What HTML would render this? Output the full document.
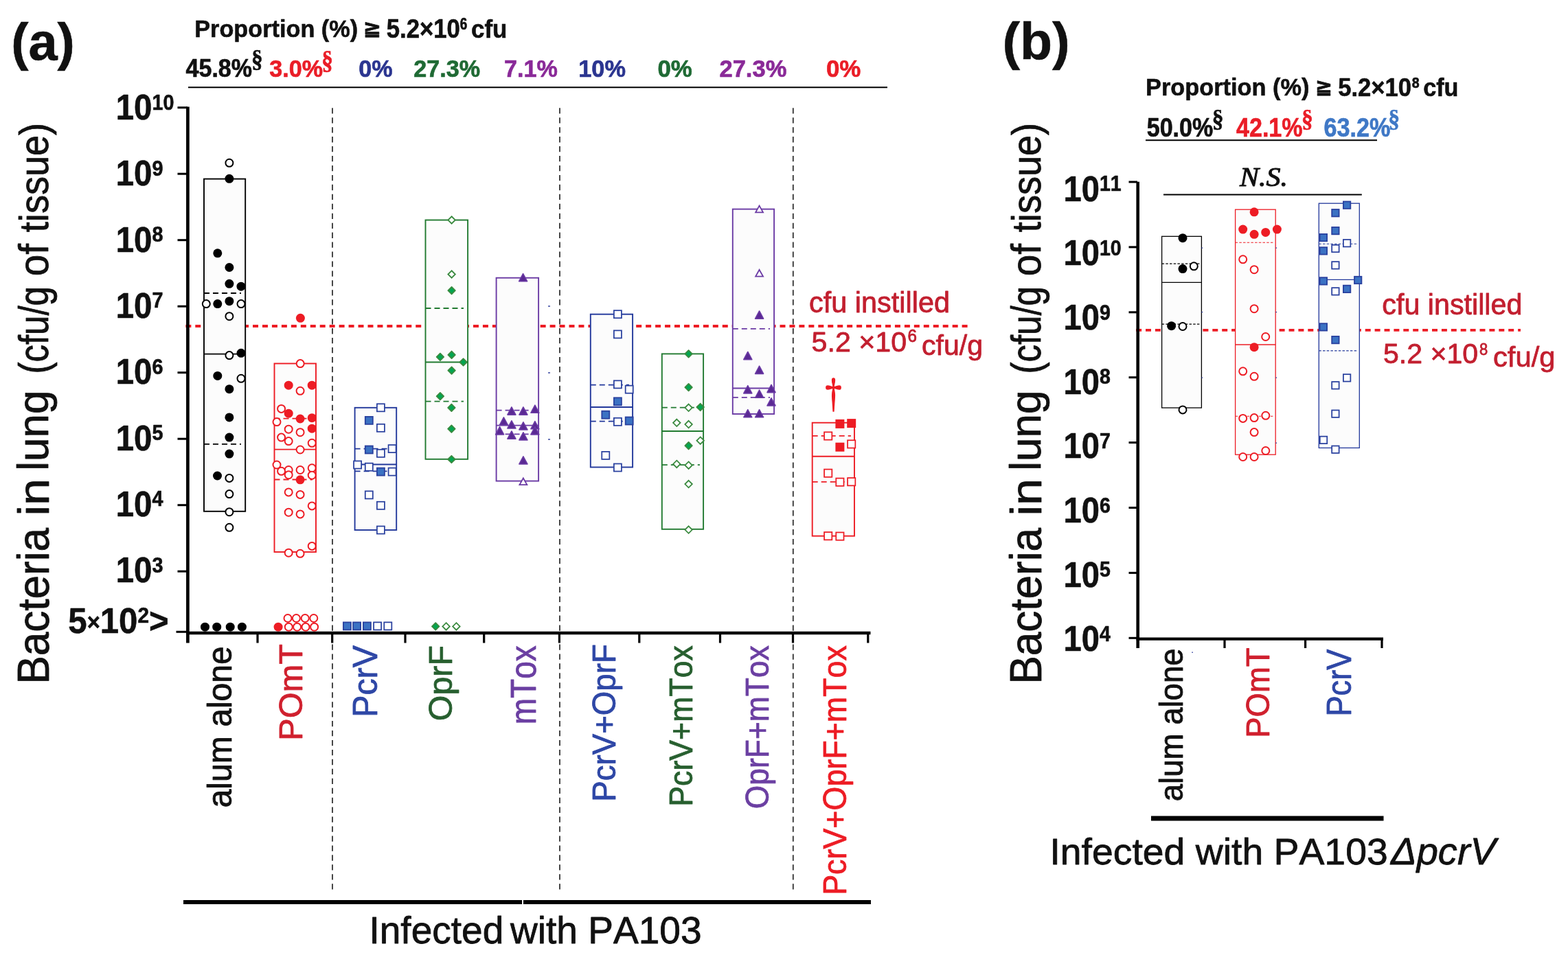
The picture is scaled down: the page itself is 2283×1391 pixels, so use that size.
<!DOCTYPE html>
<html><head><meta charset="utf-8"><title>Bacteria in lung</title>
<style>html,body{margin:0;padding:0;background:#fff;overflow:hidden}svg{display:block}text{font-kerning:none}</style>
</head><body>
<svg width="2283" height="1391" viewBox="0 0 2283 1391">
<rect width="2283" height="1391" fill="#fff"/>
<line x1="270.35" y1="475" x2="1413.8" y2="475" stroke="#ed1c24" stroke-width="3.8" stroke-dasharray="8 5.954"/>
<line x1="484" y1="157.25" x2="484" y2="1297" stroke="#333333" stroke-width="1.8" stroke-dasharray="8.3 5.65"/>
<line x1="815" y1="157.25" x2="815" y2="1297" stroke="#333333" stroke-width="1.8" stroke-dasharray="8.3 5.65"/>
<line x1="1154.8" y1="157.25" x2="1154.8" y2="1297" stroke="#333333" stroke-width="1.8" stroke-dasharray="8.3 5.65"/>
<line x1="273.4" y1="155.5" x2="273.4" y2="936.5" stroke="#000000" stroke-width="4.7"/>
<line x1="271" y1="922" x2="1267.5" y2="922" stroke="#000000" stroke-width="4.6"/>
<line x1="258.5" y1="832.2" x2="273" y2="832.2" stroke="#000000" stroke-width="3"/>
<line x1="258.5" y1="735.7" x2="273" y2="735.7" stroke="#000000" stroke-width="3"/>
<line x1="258.5" y1="639.2" x2="273" y2="639.2" stroke="#000000" stroke-width="3"/>
<line x1="258.5" y1="542.7" x2="273" y2="542.7" stroke="#000000" stroke-width="3"/>
<line x1="258.5" y1="446.2" x2="273" y2="446.2" stroke="#000000" stroke-width="3"/>
<line x1="258.5" y1="349.7" x2="273" y2="349.7" stroke="#000000" stroke-width="3"/>
<line x1="258.5" y1="253.2" x2="273" y2="253.2" stroke="#000000" stroke-width="3"/>
<line x1="258.5" y1="156.7" x2="273" y2="156.7" stroke="#000000" stroke-width="3"/>
<line x1="256.5" y1="920.3" x2="273" y2="920.3" stroke="#000000" stroke-width="3"/>
<line x1="375" y1="922" x2="375" y2="936.5" stroke="#000000" stroke-width="3.2"/>
<line x1="483.7" y1="922" x2="483.7" y2="936.5" stroke="#000000" stroke-width="3.2"/>
<line x1="590" y1="922" x2="590" y2="936.5" stroke="#000000" stroke-width="3.2"/>
<line x1="704.7" y1="922" x2="704.7" y2="936.5" stroke="#000000" stroke-width="3.2"/>
<line x1="814.4" y1="922" x2="814.4" y2="936.5" stroke="#000000" stroke-width="3.2"/>
<line x1="930.8" y1="922" x2="930.8" y2="936.5" stroke="#000000" stroke-width="3.2"/>
<line x1="1048.5" y1="922" x2="1048.5" y2="936.5" stroke="#000000" stroke-width="3.2"/>
<line x1="1154.5" y1="922" x2="1154.5" y2="936.5" stroke="#000000" stroke-width="3.2"/>
<line x1="1263.8" y1="922" x2="1263.8" y2="936.5" stroke="#000000" stroke-width="3.2"/>
<text id="ta9" class="t" transform="translate(168.74 270.30) scale(0.9586 1.0339)" font-family='"Liberation Sans", "DejaVu Sans", Arial, sans-serif' font-size="49.5" font-weight="bold" font-style="normal" fill="#111111" text-anchor="start" stroke="#111111" stroke-width="0.60" stroke-linejoin="round" >10<tspan font-size="30" dy="-14">9</tspan></text>
<text id="ta3" class="t" transform="translate(168.74 848.10) scale(0.9586 1.0339)" font-family='"Liberation Sans", "DejaVu Sans", Arial, sans-serif' font-size="49.5" font-weight="bold" font-style="normal" fill="#111111" text-anchor="start" stroke="#111111" stroke-width="0.60" stroke-linejoin="round" >10<tspan font-size="30" dy="-14">3</tspan></text>
<text id="ta4" class="t" transform="translate(168.74 751.80) scale(0.9586 1.0339)" font-family='"Liberation Sans", "DejaVu Sans", Arial, sans-serif' font-size="49.5" font-weight="bold" font-style="normal" fill="#111111" text-anchor="start" stroke="#111111" stroke-width="0.60" stroke-linejoin="round" >10<tspan font-size="30" dy="-14">4</tspan></text>
<text id="ta5" class="t" transform="translate(168.74 655.50) scale(0.9586 1.0339)" font-family='"Liberation Sans", "DejaVu Sans", Arial, sans-serif' font-size="49.5" font-weight="bold" font-style="normal" fill="#111111" text-anchor="start" stroke="#111111" stroke-width="0.60" stroke-linejoin="round" >10<tspan font-size="30" dy="-14">5</tspan></text>
<text id="ta6" class="t" transform="translate(168.74 559.20) scale(0.9586 1.0339)" font-family='"Liberation Sans", "DejaVu Sans", Arial, sans-serif' font-size="49.5" font-weight="bold" font-style="normal" fill="#111111" text-anchor="start" stroke="#111111" stroke-width="0.60" stroke-linejoin="round" >10<tspan font-size="30" dy="-14">6</tspan></text>
<text id="ta7" class="t" transform="translate(168.74 462.90) scale(0.9586 1.0339)" font-family='"Liberation Sans", "DejaVu Sans", Arial, sans-serif' font-size="49.5" font-weight="bold" font-style="normal" fill="#111111" text-anchor="start" stroke="#111111" stroke-width="0.60" stroke-linejoin="round" >10<tspan font-size="30" dy="-14">7</tspan></text>
<text id="ta8" class="t" transform="translate(168.74 366.60) scale(0.9586 1.0339)" font-family='"Liberation Sans", "DejaVu Sans", Arial, sans-serif' font-size="49.5" font-weight="bold" font-style="normal" fill="#111111" text-anchor="start" stroke="#111111" stroke-width="0.60" stroke-linejoin="round" >10<tspan font-size="30" dy="-14">8</tspan></text>
<text id="ta10" class="t" transform="translate(168.74 174.00) scale(0.9586 1.0339)" font-family='"Liberation Sans", "DejaVu Sans", Arial, sans-serif' font-size="49.5" font-weight="bold" font-style="normal" fill="#111111" text-anchor="start" stroke="#111111" stroke-width="0.60" stroke-linejoin="round" >10<tspan font-size="30" dy="-14">10</tspan></text>
<text id="ta2" class="t" transform="translate(99.30 921.51) scale(0.9932 1.0384)" font-family='"Liberation Sans", "DejaVu Sans", Arial, sans-serif' font-size="49.5" font-weight="bold" font-style="normal" fill="#111111" text-anchor="start" stroke="#111111" stroke-width="0.60" stroke-linejoin="round" >5<tspan font-size="33" dy="-3">×</tspan><tspan dy="3">10</tspan><tspan font-size="30" dy="-14">2</tspan><tspan dy="14">&gt;</tspan></text>
<rect x="297" y="260.6" width="60.2" height="484.2" fill="#fcfcfc" stroke="#000000" stroke-width="1.9"/>
<line x1="297" y1="515.6" x2="357.2" y2="515.6" stroke="#000000" stroke-width="1.9"/>
<line x1="297" y1="427" x2="351" y2="427" stroke="#000000" stroke-width="1.8" stroke-dasharray="8 5"/>
<line x1="297" y1="646.8" x2="351" y2="646.8" stroke="#000000" stroke-width="1.8" stroke-dasharray="8 5"/>
<rect x="399.5" y="529.5" width="60.5" height="274.5" fill="#fcfcfc" stroke="#ed1c24" stroke-width="1.9"/>
<line x1="399.5" y1="654.6" x2="460" y2="654.6" stroke="#ed1c24" stroke-width="1.9"/>
<line x1="399.5" y1="609.7" x2="455" y2="609.7" stroke="#ed1c24" stroke-width="1.8" stroke-dasharray="8 5"/>
<line x1="399.5" y1="698.5" x2="455" y2="698.5" stroke="#ed1c24" stroke-width="1.8" stroke-dasharray="8 5"/>
<rect x="516.6" y="593.8" width="60.6" height="178.2" fill="#fcfcfc" stroke="#22389b" stroke-width="1.9"/>
<line x1="516.6" y1="676.5" x2="577.2" y2="676.5" stroke="#22389b" stroke-width="1.9"/>
<line x1="516.6" y1="653.6" x2="572" y2="653.6" stroke="#22389b" stroke-width="1.8" stroke-dasharray="8 5"/>
<line x1="516.6" y1="686.3" x2="572" y2="686.3" stroke="#22389b" stroke-width="1.8" stroke-dasharray="8 5"/>
<rect x="619.5" y="320.5" width="61.6" height="348.3" fill="#fcfcfc" stroke="#217a30" stroke-width="1.9"/>
<line x1="619.5" y1="527.5" x2="681.1" y2="527.5" stroke="#217a30" stroke-width="1.9"/>
<line x1="619.5" y1="449" x2="675" y2="449" stroke="#217a30" stroke-width="1.8" stroke-dasharray="8 5"/>
<line x1="619.5" y1="584.7" x2="675" y2="584.7" stroke="#217a30" stroke-width="1.8" stroke-dasharray="8 5"/>
<rect x="722.6" y="404.7" width="61.5" height="295.9" fill="#fcfcfc" stroke="#6a3aa4" stroke-width="1.9"/>
<line x1="722.6" y1="619.6" x2="784.1" y2="619.6" stroke="#6a3aa4" stroke-width="1.9"/>
<line x1="722.6" y1="597.7" x2="779" y2="597.7" stroke="#6a3aa4" stroke-width="1.8" stroke-dasharray="8 5"/>
<line x1="722.6" y1="632.3" x2="779" y2="632.3" stroke="#6a3aa4" stroke-width="1.8" stroke-dasharray="8 5"/>
<rect x="859.8" y="457.7" width="61.3" height="222.8" fill="#fcfcfc" stroke="#22389b" stroke-width="1.9"/>
<line x1="859.8" y1="593" x2="921.1" y2="593" stroke="#22389b" stroke-width="1.9"/>
<line x1="859.8" y1="560.7" x2="916" y2="560.7" stroke="#22389b" stroke-width="1.8" stroke-dasharray="8 5"/>
<line x1="859.8" y1="613.7" x2="916" y2="613.7" stroke="#22389b" stroke-width="1.8" stroke-dasharray="8 5"/>
<rect x="963.8" y="515.4" width="60.3" height="255.4" fill="#fcfcfc" stroke="#217a30" stroke-width="1.9"/>
<line x1="963.8" y1="628" x2="1024.1" y2="628" stroke="#217a30" stroke-width="1.9"/>
<line x1="963.8" y1="593.6" x2="1019" y2="593.6" stroke="#217a30" stroke-width="1.8" stroke-dasharray="8 5"/>
<line x1="963.8" y1="677.2" x2="1019" y2="677.2" stroke="#217a30" stroke-width="1.8" stroke-dasharray="8 5"/>
<rect x="1066.8" y="304.6" width="60.3" height="298.4" fill="#fcfcfc" stroke="#6a3aa4" stroke-width="1.9"/>
<line x1="1066.8" y1="565.5" x2="1127.1" y2="565.5" stroke="#6a3aa4" stroke-width="1.9"/>
<line x1="1066.8" y1="478.8" x2="1121" y2="478.8" stroke="#6a3aa4" stroke-width="1.8" stroke-dasharray="8 5"/>
<line x1="1066.8" y1="578.9" x2="1121" y2="578.9" stroke="#6a3aa4" stroke-width="1.8" stroke-dasharray="8 5"/>
<rect x="1182.7" y="615.7" width="61.3" height="165" fill="#fcfcfc" stroke="#ed1c24" stroke-width="1.9"/>
<line x1="1182.7" y1="664.7" x2="1244" y2="664.7" stroke="#ed1c24" stroke-width="1.9"/>
<line x1="1182.7" y1="634.8" x2="1239" y2="634.8" stroke="#ed1c24" stroke-width="1.8" stroke-dasharray="8 5"/>
<line x1="1182.7" y1="701.9" x2="1239" y2="701.9" stroke="#ed1c24" stroke-width="1.8" stroke-dasharray="8 5"/>
<circle cx="333.9" cy="237.3" r="5.5" fill="#fff" stroke="#000000" stroke-width="2.0"/>
<circle cx="333.9" cy="260.3" r="6.5" fill="#000000"/>
<circle cx="316.8" cy="368.8" r="6.5" fill="#000000"/>
<circle cx="333.9" cy="389.5" r="6.5" fill="#000000"/>
<circle cx="333.9" cy="413.3" r="6.5" fill="#000000"/>
<circle cx="351" cy="417.2" r="6.5" fill="#000000"/>
<circle cx="300.3" cy="442.6" r="5.5" fill="#fff" stroke="#000000" stroke-width="2.0"/>
<circle cx="316.8" cy="442.6" r="6.5" fill="#000000"/>
<circle cx="333.9" cy="438.7" r="6.5" fill="#000000"/>
<circle cx="351" cy="442.6" r="5.5" fill="#fff" stroke="#000000" stroke-width="2.0"/>
<circle cx="333.9" cy="460.7" r="5.5" fill="#fff" stroke="#000000" stroke-width="2.0"/>
<circle cx="333.9" cy="517.6" r="5.5" fill="#fff" stroke="#000000" stroke-width="2.0"/>
<circle cx="351" cy="514.3" r="6.5" fill="#000000"/>
<circle cx="316.8" cy="547.4" r="6.5" fill="#000000"/>
<circle cx="351" cy="551.3" r="5.5" fill="#fff" stroke="#000000" stroke-width="2.0"/>
<circle cx="333.9" cy="566.7" r="6.5" fill="#000000"/>
<circle cx="333.9" cy="607.9" r="6.5" fill="#000000"/>
<circle cx="333.9" cy="637.1" r="6.5" fill="#000000"/>
<circle cx="333.9" cy="661.1" r="6.5" fill="#000000"/>
<circle cx="316.5" cy="693" r="6.5" fill="#000000"/>
<circle cx="333.9" cy="696.4" r="5.5" fill="#fff" stroke="#000000" stroke-width="2.0"/>
<circle cx="333.9" cy="719.6" r="5.5" fill="#fff" stroke="#000000" stroke-width="2.0"/>
<circle cx="333.9" cy="745.7" r="5.5" fill="#fff" stroke="#000000" stroke-width="2.0"/>
<circle cx="333.9" cy="768.3" r="5.5" fill="#fff" stroke="#000000" stroke-width="2.0"/>
<circle cx="298.5" cy="913.2" r="6.5" fill="#000000"/>
<circle cx="315.7" cy="913.2" r="6.5" fill="#000000"/>
<circle cx="335.2" cy="913.2" r="6.5" fill="#000000"/>
<circle cx="352.4" cy="913.2" r="6.5" fill="#000000"/>
<circle cx="437.4" cy="463.3" r="6.5" fill="#ed1c24"/>
<circle cx="437.2" cy="529.6" r="5.5" fill="#fff" stroke="#ed1c24" stroke-width="2.0"/>
<circle cx="420.2" cy="561.2" r="6.5" fill="#ed1c24"/>
<circle cx="454.2" cy="561.2" r="6.5" fill="#ed1c24"/>
<circle cx="437.1" cy="569.3" r="5.5" fill="#fff" stroke="#ed1c24" stroke-width="2.0"/>
<circle cx="409.6" cy="595.4" r="5.5" fill="#fff" stroke="#ed1c24" stroke-width="2.0"/>
<circle cx="420.2" cy="602.2" r="6.5" fill="#ed1c24"/>
<circle cx="437.1" cy="610" r="6.5" fill="#ed1c24"/>
<circle cx="454.2" cy="608.7" r="6.5" fill="#ed1c24"/>
<circle cx="403" cy="614.6" r="5.5" fill="#fff" stroke="#ed1c24" stroke-width="2.0"/>
<circle cx="420.2" cy="625.2" r="5.5" fill="#fff" stroke="#ed1c24" stroke-width="2.0"/>
<circle cx="454.2" cy="624.2" r="6.5" fill="#ed1c24"/>
<circle cx="437.1" cy="629.7" r="5.5" fill="#fff" stroke="#ed1c24" stroke-width="2.0"/>
<circle cx="409.6" cy="637.1" r="5.5" fill="#fff" stroke="#ed1c24" stroke-width="2.0"/>
<circle cx="420.2" cy="642.6" r="5.5" fill="#fff" stroke="#ed1c24" stroke-width="2.0"/>
<circle cx="454.2" cy="645.3" r="5.5" fill="#fff" stroke="#ed1c24" stroke-width="2.0"/>
<circle cx="437.1" cy="655" r="5.5" fill="#fff" stroke="#ed1c24" stroke-width="2.0"/>
<circle cx="403" cy="677" r="5.5" fill="#fff" stroke="#ed1c24" stroke-width="2.0"/>
<circle cx="409.6" cy="686.3" r="5.5" fill="#fff" stroke="#ed1c24" stroke-width="2.0"/>
<circle cx="420.2" cy="684.5" r="5.5" fill="#fff" stroke="#ed1c24" stroke-width="2.0"/>
<circle cx="420.2" cy="691.7" r="5.5" fill="#fff" stroke="#ed1c24" stroke-width="2.0"/>
<circle cx="437.1" cy="684.5" r="5.5" fill="#fff" stroke="#ed1c24" stroke-width="2.0"/>
<circle cx="454.2" cy="681.8" r="5.5" fill="#fff" stroke="#ed1c24" stroke-width="2.0"/>
<circle cx="454.2" cy="692.2" r="5.5" fill="#fff" stroke="#ed1c24" stroke-width="2.0"/>
<circle cx="437.1" cy="698.8" r="6.5" fill="#ed1c24"/>
<circle cx="420.2" cy="716.9" r="5.5" fill="#fff" stroke="#ed1c24" stroke-width="2.0"/>
<circle cx="437.1" cy="720.4" r="5.5" fill="#fff" stroke="#ed1c24" stroke-width="2.0"/>
<circle cx="454.2" cy="736.9" r="5.5" fill="#fff" stroke="#ed1c24" stroke-width="2.0"/>
<circle cx="420.2" cy="746.2" r="5.5" fill="#fff" stroke="#ed1c24" stroke-width="2.0"/>
<circle cx="437.1" cy="748.9" r="5.5" fill="#fff" stroke="#ed1c24" stroke-width="2.0"/>
<circle cx="454.2" cy="795.4" r="5.5" fill="#fff" stroke="#ed1c24" stroke-width="2.0"/>
<circle cx="420.2" cy="805.2" r="5.5" fill="#fff" stroke="#ed1c24" stroke-width="2.0"/>
<circle cx="437.1" cy="806.3" r="5.5" fill="#fff" stroke="#ed1c24" stroke-width="2.0"/>
<circle cx="405.1" cy="913.2" r="6.5" fill="#ed1c24"/>
<circle cx="420.3" cy="913.2" r="5.5" fill="#fff" stroke="#ed1c24" stroke-width="2.0"/>
<circle cx="432.6" cy="913.2" r="5.5" fill="#fff" stroke="#ed1c24" stroke-width="2.0"/>
<circle cx="445" cy="913.2" r="5.5" fill="#fff" stroke="#ed1c24" stroke-width="2.0"/>
<circle cx="457.6" cy="913.2" r="5.5" fill="#fff" stroke="#ed1c24" stroke-width="2.0"/>
<circle cx="419" cy="900.5" r="5.5" fill="#fff" stroke="#ed1c24" stroke-width="2.0"/>
<circle cx="431.4" cy="900.5" r="5.5" fill="#fff" stroke="#ed1c24" stroke-width="2.0"/>
<circle cx="444.2" cy="900.5" r="5.5" fill="#fff" stroke="#ed1c24" stroke-width="2.0"/>
<circle cx="456.8" cy="900.5" r="5.5" fill="#fff" stroke="#ed1c24" stroke-width="2.0"/>
<rect x="548.88" y="588.27" width="11.05" height="11.05" fill="#fff" stroke="#2a419f" stroke-width="1.75"/>
<rect x="531.8" y="606.9" width="11" height="11" fill="#3b72c3" stroke="#2a419f" stroke-width="1.8"/>
<rect x="548.88" y="617.77" width="11.05" height="11.05" fill="#fff" stroke="#2a419f" stroke-width="1.75"/>
<rect x="531.8" y="649.5" width="11" height="11" fill="#3b72c3" stroke="#2a419f" stroke-width="1.8"/>
<rect x="548.88" y="654.77" width="11.05" height="11.05" fill="#fff" stroke="#2a419f" stroke-width="1.75"/>
<rect x="565.58" y="648.08" width="11.05" height="11.05" fill="#fff" stroke="#2a419f" stroke-width="1.75"/>
<rect x="515.08" y="671.48" width="11.05" height="11.05" fill="#fff" stroke="#2a419f" stroke-width="1.75"/>
<rect x="531.77" y="674.68" width="11.05" height="11.05" fill="#fff" stroke="#2a419f" stroke-width="1.75"/>
<rect x="548.9" y="681.6" width="11" height="11" fill="#3b72c3" stroke="#2a419f" stroke-width="1.8"/>
<rect x="565.58" y="681.58" width="11.05" height="11.05" fill="#fff" stroke="#2a419f" stroke-width="1.75"/>
<rect x="531.77" y="715.38" width="11.05" height="11.05" fill="#fff" stroke="#2a419f" stroke-width="1.75"/>
<rect x="548.88" y="730.77" width="11.05" height="11.05" fill="#fff" stroke="#2a419f" stroke-width="1.75"/>
<rect x="548.88" y="766.48" width="11.05" height="11.05" fill="#fff" stroke="#2a419f" stroke-width="1.75"/>
<rect x="499.9" y="906.4" width="11" height="11" fill="#3b72c3" stroke="#2a419f" stroke-width="1.8"/>
<rect x="514.1" y="906.4" width="11" height="11" fill="#3b72c3" stroke="#2a419f" stroke-width="1.8"/>
<rect x="528.9" y="906.4" width="11" height="11" fill="#3b72c3" stroke="#2a419f" stroke-width="1.8"/>
<rect x="544.08" y="906.38" width="11.05" height="11.05" fill="#fff" stroke="#2a419f" stroke-width="1.75"/>
<rect x="559.27" y="906.38" width="11.05" height="11.05" fill="#fff" stroke="#2a419f" stroke-width="1.75"/>
<path d="M657.6 315.26L662.84 320.5L657.6 325.74L652.36 320.5Z" fill="#fff" stroke="#3a8a3f" stroke-width="1.8"/>
<path d="M657.6 394.26L662.84 399.5L657.6 404.74L652.36 399.5Z" fill="#fff" stroke="#3a8a3f" stroke-width="1.8"/>
<path d="M657.6 418L662.8 423.2L657.6 428.4L652.4 423.2Z" fill="#00a651" stroke="#3a8a3f" stroke-width="1.9" stroke-linejoin="round"/>
<path d="M640.9 514.7L646.1 519.9L640.9 525.1L635.7 519.9Z" fill="#00a651" stroke="#3a8a3f" stroke-width="1.9" stroke-linejoin="round"/>
<path d="M657.6 511.6L662.8 516.8L657.6 522L652.4 516.8Z" fill="#00a651" stroke="#3a8a3f" stroke-width="1.9" stroke-linejoin="round"/>
<path d="M674.6 522.3L679.8 527.5L674.6 532.7L669.4 527.5Z" fill="#00a651" stroke="#3a8a3f" stroke-width="1.9" stroke-linejoin="round"/>
<path d="M657.6 534.4L662.8 539.6L657.6 544.8L652.4 539.6Z" fill="#00a651" stroke="#3a8a3f" stroke-width="1.9" stroke-linejoin="round"/>
<path d="M640.9 571.9L646.1 577.1L640.9 582.3L635.7 577.1Z" fill="#00a651" stroke="#3a8a3f" stroke-width="1.9" stroke-linejoin="round"/>
<path d="M657.4 588.7L662.6 593.9L657.4 599.1L652.2 593.9Z" fill="#00a651" stroke="#3a8a3f" stroke-width="1.9" stroke-linejoin="round"/>
<path d="M657.4 619.4L662.6 624.6L657.4 629.8L652.2 624.6Z" fill="#00a651" stroke="#3a8a3f" stroke-width="1.9" stroke-linejoin="round"/>
<path d="M657.4 663.8L662.6 669L657.4 674.2L652.2 669Z" fill="#00a651" stroke="#3a8a3f" stroke-width="1.9" stroke-linejoin="round"/>
<path d="M634.2 907.2L639.4 912.4L634.2 917.6L629 912.4Z" fill="#00a651" stroke="#3a8a3f" stroke-width="1.9" stroke-linejoin="round"/>
<path d="M649.6 907.16L654.84 912.4L649.6 917.64L644.36 912.4Z" fill="#fff" stroke="#3a8a3f" stroke-width="1.8"/>
<path d="M664.4 907.16L669.64 912.4L664.4 917.64L659.16 912.4Z" fill="#fff" stroke="#3a8a3f" stroke-width="1.8"/>
<path d="M761.6 398.6L767.6 409.8L755.6 409.8Z" fill="#5a2993" stroke="#6a3aa4" stroke-width="1.6" stroke-linejoin="round"/>
<path d="M744.9 592.9L750.9 604.1L738.9 604.1Z" fill="#5a2993" stroke="#6a3aa4" stroke-width="1.6" stroke-linejoin="round"/>
<path d="M761.9 592.9L767.9 604.1L755.9 604.1Z" fill="#5a2993" stroke="#6a3aa4" stroke-width="1.6" stroke-linejoin="round"/>
<path d="M778.9 590.1L784.9 601.3L772.9 601.3Z" fill="#5a2993" stroke="#6a3aa4" stroke-width="1.6" stroke-linejoin="round"/>
<path d="M733.4 607.9L739.4 619.1L727.4 619.1Z" fill="#5a2993" stroke="#6a3aa4" stroke-width="1.6" stroke-linejoin="round"/>
<path d="M744.9 612.8L750.9 624L738.9 624Z" fill="#5a2993" stroke="#6a3aa4" stroke-width="1.6" stroke-linejoin="round"/>
<path d="M761.9 614.8L767.9 626L755.9 626Z" fill="#5a2993" stroke="#6a3aa4" stroke-width="1.6" stroke-linejoin="round"/>
<path d="M778.9 613.6L784.9 624.8L772.9 624.8Z" fill="#5a2993" stroke="#6a3aa4" stroke-width="1.6" stroke-linejoin="round"/>
<path d="M727.6 621.7L733.6 632.9L721.6 632.9Z" fill="#5a2993" stroke="#6a3aa4" stroke-width="1.6" stroke-linejoin="round"/>
<path d="M778.9 621.7L784.9 632.9L772.9 632.9Z" fill="#5a2993" stroke="#6a3aa4" stroke-width="1.6" stroke-linejoin="round"/>
<path d="M744.9 628L750.9 639.2L738.9 639.2Z" fill="#5a2993" stroke="#6a3aa4" stroke-width="1.6" stroke-linejoin="round"/>
<path d="M761.9 629.8L767.9 641L755.9 641Z" fill="#5a2993" stroke="#6a3aa4" stroke-width="1.6" stroke-linejoin="round"/>
<path d="M761.9 664.8L767.9 676L755.9 676Z" fill="#5a2993" stroke="#6a3aa4" stroke-width="1.6" stroke-linejoin="round"/>
<path d="M761.9 696.44L767.35 706.16L756.45 706.16Z" fill="#fff" stroke="#6a3aa4" stroke-width="1.8" stroke-linejoin="miter"/>
<rect x="893.88" y="452.18" width="11.05" height="11.05" fill="#fff" stroke="#2a419f" stroke-width="1.75"/>
<rect x="893.88" y="481.38" width="11.05" height="11.05" fill="#fff" stroke="#2a419f" stroke-width="1.75"/>
<rect x="893.88" y="554.38" width="11.05" height="11.05" fill="#fff" stroke="#2a419f" stroke-width="1.75"/>
<rect x="910.68" y="561.68" width="11.05" height="11.05" fill="#fff" stroke="#2a419f" stroke-width="1.75"/>
<rect x="893.9" y="579.3" width="11" height="11" fill="#3b72c3" stroke="#2a419f" stroke-width="1.8"/>
<rect x="876.3" y="598.7" width="11" height="11" fill="#3b72c3" stroke="#2a419f" stroke-width="1.8"/>
<rect x="893.88" y="608.77" width="11.05" height="11.05" fill="#fff" stroke="#2a419f" stroke-width="1.75"/>
<rect x="910.7" y="607.5" width="11" height="11" fill="#3b72c3" stroke="#2a419f" stroke-width="1.8"/>
<rect x="876.27" y="657.88" width="11.05" height="11.05" fill="#fff" stroke="#2a419f" stroke-width="1.75"/>
<rect x="893.88" y="675.48" width="11.05" height="11.05" fill="#fff" stroke="#2a419f" stroke-width="1.75"/>
<path d="M1002.6 510.2L1007.8 515.4L1002.6 520.6L997.4 515.4Z" fill="#00a651" stroke="#3a8a3f" stroke-width="1.9" stroke-linejoin="round"/>
<path d="M1002.6 558.9L1007.8 564.1L1002.6 569.3L997.4 564.1Z" fill="#00a651" stroke="#3a8a3f" stroke-width="1.9" stroke-linejoin="round"/>
<path d="M1002.6 588.56L1007.84 593.8L1002.6 599.04L997.36 593.8Z" fill="#fff" stroke="#3a8a3f" stroke-width="1.8"/>
<path d="M1019.7 587.8L1024.9 593L1019.7 598.2L1014.5 593Z" fill="#00a651" stroke="#3a8a3f" stroke-width="1.9" stroke-linejoin="round"/>
<path d="M985.3 610.56L990.54 615.8L985.3 621.04L980.06 615.8Z" fill="#fff" stroke="#3a8a3f" stroke-width="1.8"/>
<path d="M1002.6 612.86L1007.84 618.1L1002.6 623.34L997.36 618.1Z" fill="#fff" stroke="#3a8a3f" stroke-width="1.8"/>
<path d="M1019.7 636.46L1024.94 641.7L1019.7 646.94L1014.46 641.7Z" fill="#fff" stroke="#3a8a3f" stroke-width="1.8"/>
<path d="M1002.6 644L1007.8 649.2L1002.6 654.4L997.4 649.2Z" fill="#00a651" stroke="#3a8a3f" stroke-width="1.9" stroke-linejoin="round"/>
<path d="M985.3 670.66L990.54 675.9L985.3 681.14L980.06 675.9Z" fill="#fff" stroke="#3a8a3f" stroke-width="1.8"/>
<path d="M1002.6 672.46L1007.84 677.7L1002.6 682.94L997.36 677.7Z" fill="#fff" stroke="#3a8a3f" stroke-width="1.8"/>
<path d="M1002.6 699.86L1007.84 705.1L1002.6 710.34L997.36 705.1Z" fill="#fff" stroke="#3a8a3f" stroke-width="1.8"/>
<path d="M1002.6 766.36L1007.84 771.6L1002.6 776.84L997.36 771.6Z" fill="#fff" stroke="#3a8a3f" stroke-width="1.8"/>
<path d="M1105.6 299.64L1111.05 309.36L1100.15 309.36Z" fill="#fff" stroke="#6a3aa4" stroke-width="1.8" stroke-linejoin="miter"/>
<path d="M1105.6 392.94L1111.05 402.66L1100.15 402.66Z" fill="#fff" stroke="#6a3aa4" stroke-width="1.8" stroke-linejoin="miter"/>
<path d="M1105.6 453L1111.6 464.2L1099.6 464.2Z" fill="#5a2993" stroke="#6a3aa4" stroke-width="1.6" stroke-linejoin="round"/>
<path d="M1088.8 512.5L1094.8 523.7L1082.8 523.7Z" fill="#5a2993" stroke="#6a3aa4" stroke-width="1.6" stroke-linejoin="round"/>
<path d="M1105.6 533.2L1111.6 544.4L1099.6 544.4Z" fill="#5a2993" stroke="#6a3aa4" stroke-width="1.6" stroke-linejoin="round"/>
<path d="M1088.8 561.7L1094.8 572.9L1082.8 572.9Z" fill="#5a2993" stroke="#6a3aa4" stroke-width="1.6" stroke-linejoin="round"/>
<path d="M1105.6 568.1L1111.6 579.3L1099.6 579.3Z" fill="#5a2993" stroke="#6a3aa4" stroke-width="1.6" stroke-linejoin="round"/>
<path d="M1123 560.4L1129 571.6L1117 571.6Z" fill="#5a2993" stroke="#6a3aa4" stroke-width="1.6" stroke-linejoin="round"/>
<path d="M1123 579.8L1129 591L1117 591Z" fill="#5a2993" stroke="#6a3aa4" stroke-width="1.6" stroke-linejoin="round"/>
<path d="M1088.8 596.6L1094.8 607.8L1082.8 607.8Z" fill="#5a2993" stroke="#6a3aa4" stroke-width="1.6" stroke-linejoin="round"/>
<path d="M1105.6 596.6L1111.6 607.8L1099.6 607.8Z" fill="#5a2993" stroke="#6a3aa4" stroke-width="1.6" stroke-linejoin="round"/>
<rect x="1217.3" y="611.8" width="11.2" height="11.2" fill="#ed1c24" stroke="#ed1c24" stroke-width="1.8"/>
<rect x="1234.1" y="611" width="11.2" height="11.2" fill="#ed1c24" stroke="#ed1c24" stroke-width="1.8"/>
<rect x="1200.08" y="629.38" width="11.25" height="11.25" fill="#fff" stroke="#ed1c24" stroke-width="1.75"/>
<rect x="1217.3" y="645.6" width="11.2" height="11.2" fill="#ed1c24" stroke="#ed1c24" stroke-width="1.8"/>
<rect x="1234.08" y="641.27" width="11.25" height="11.25" fill="#fff" stroke="#ed1c24" stroke-width="1.75"/>
<rect x="1200.08" y="683.58" width="11.25" height="11.25" fill="#fff" stroke="#ed1c24" stroke-width="1.75"/>
<rect x="1217.28" y="696.58" width="11.25" height="11.25" fill="#fff" stroke="#ed1c24" stroke-width="1.75"/>
<rect x="1234.08" y="696.08" width="11.25" height="11.25" fill="#fff" stroke="#ed1c24" stroke-width="1.75"/>
<rect x="1200.08" y="775.08" width="11.25" height="11.25" fill="#fff" stroke="#ed1c24" stroke-width="1.75"/>
<rect x="1217.28" y="775.48" width="11.25" height="11.25" fill="#fff" stroke="#ed1c24" stroke-width="1.75"/>
<rect x="798" y="445.3" width="3" height="1.4" fill="#2a3a9a"/>
<rect x="798" y="542.3" width="3" height="1.4" fill="#2a3a9a"/>
<rect x="798" y="639.3" width="3" height="1.4" fill="#2a3a9a"/>
<text id="dag" class="t" transform="translate(1213.56 594.68) scale(0.7179 0.8881)" font-family='"Noto Serif CJK SC", "Liberation Serif", serif' font-size="62" font-weight="normal" font-style="normal" fill="#ed1c24" text-anchor="middle" stroke="#ed1c24" stroke-width="1.70" stroke-linejoin="round" >&#8224;</text>
<text id="pa" class="t" transform="translate(16.15 86.66) scale(0.9852 0.9873)" font-family='"Liberation Sans", "DejaVu Sans", Arial, sans-serif' font-size="77" font-weight="bold" font-style="normal" fill="#111111" text-anchor="start" stroke="#111111" stroke-width="0.60" stroke-linejoin="round" >(a)</text>
<text id="hdra1" class="t" transform="translate(283.24 53.60) scale(0.9791 1.0000)" font-family='"Liberation Sans", "DejaVu Sans", Arial, sans-serif' font-size="35" font-weight="bold" font-style="normal" fill="#111111" text-anchor="start" stroke="#111111" stroke-width="0.60" stroke-linejoin="round" >Proportion (%)</text>
<text id="hdra2" class="t" transform="translate(528.78 51.12) scale(1.0557 1.0106)" font-family='"DejaVu Sans", "Liberation Sans", sans-serif' font-size="30" font-weight="bold" font-style="normal" fill="#111111" text-anchor="start" stroke="#111111" stroke-width="0.80" stroke-linejoin="round" >&#8807;</text>
<text id="hdra3" class="t" transform="translate(562.80 55.00) scale(0.9907 1.0849)" font-family='"Liberation Sans", "DejaVu Sans", Arial, sans-serif' font-size="35" font-weight="bold" font-style="normal" fill="#111111" text-anchor="start" stroke="#111111" stroke-width="0.60" stroke-linejoin="round" >5.2×10</text>
<text id="hdra4" class="t" transform="translate(669.80 43.00) scale(0.9453 1.1618)" font-family='"Liberation Sans", "DejaVu Sans", Arial, sans-serif' font-size="20" font-weight="bold" font-style="normal" fill="#111111" text-anchor="start" stroke="#111111" stroke-width="0.60" stroke-linejoin="round" >6</text>
<text id="hdra5" class="t" transform="translate(686.00 55.00) scale(0.9961 1.0399)" font-family='"Liberation Sans", "DejaVu Sans", Arial, sans-serif' font-size="35" font-weight="bold" font-style="normal" fill="#111111" text-anchor="start" stroke="#111111" stroke-width="0.60" stroke-linejoin="round" >cfu</text>
<text id="pcta0" class="t" transform="translate(270.49 111.93) scale(1.0172 1.1019)" font-family='"Liberation Sans", "DejaVu Sans", Arial, sans-serif' font-size="33.5" font-weight="bold" font-style="normal" fill="#111111" text-anchor="start" stroke="#111111" stroke-width="0.60" stroke-linejoin="round" >45.8%</text>
<text id="seca0" class="t" transform="translate(366.01 97.91) scale(0.9309 1.0056)" font-family='"Liberation Serif", "DejaVu Serif", serif' font-size="36" font-weight="bold" font-style="normal" fill="#111111" text-anchor="start" stroke="#111111" stroke-width="0.70" stroke-linejoin="round" >§</text>
<text id="pcta1" class="t" transform="translate(392.28 111.96) scale(1.0196 1.0437)" font-family='"Liberation Sans", "DejaVu Sans", Arial, sans-serif' font-size="33.5" font-weight="bold" font-style="normal" fill="#ea1d27" text-anchor="start" stroke="#ea1d27" stroke-width="0.60" stroke-linejoin="round" >3.0%</text>
<text id="seca1" class="t" transform="translate(468.14 100.04) scale(0.9286 1.0391)" font-family='"Liberation Serif", "DejaVu Serif", serif' font-size="36" font-weight="bold" font-style="normal" fill="#ea1d27" text-anchor="start" stroke="#ea1d27" stroke-width="0.70" stroke-linejoin="round" >§</text>
<text id="pcta2" class="t" transform="translate(522.24 111.98) scale(1.0187 1.0687)" font-family='"Liberation Sans", "DejaVu Sans", Arial, sans-serif' font-size="33.5" font-weight="bold" font-style="normal" fill="#2b3590" text-anchor="start" stroke="#2b3590" stroke-width="0.60" stroke-linejoin="round" >0%</text>
<text id="pcta3" class="t" transform="translate(602.25 111.98) scale(1.0207 1.0687)" font-family='"Liberation Sans", "DejaVu Sans", Arial, sans-serif' font-size="33.5" font-weight="bold" font-style="normal" fill="#1f6a34" text-anchor="start" stroke="#1f6a34" stroke-width="0.60" stroke-linejoin="round" >27.3%</text>
<text id="pcta4" class="t" transform="translate(733.98 111.98) scale(1.0206 1.0687)" font-family='"Liberation Sans", "DejaVu Sans", Arial, sans-serif' font-size="33.5" font-weight="bold" font-style="normal" fill="#8a2a98" text-anchor="start" stroke="#8a2a98" stroke-width="0.60" stroke-linejoin="round" >7.1%</text>
<text id="pcta5" class="t" transform="translate(842.22 111.98) scale(1.0256 1.0687)" font-family='"Liberation Sans", "DejaVu Sans", Arial, sans-serif' font-size="33.5" font-weight="bold" font-style="normal" fill="#2b3590" text-anchor="start" stroke="#2b3590" stroke-width="0.60" stroke-linejoin="round" >10%</text>
<text id="pcta6" class="t" transform="translate(957.44 111.98) scale(1.0420 1.0687)" font-family='"Liberation Sans", "DejaVu Sans", Arial, sans-serif' font-size="33.5" font-weight="bold" font-style="normal" fill="#1f6a34" text-anchor="start" stroke="#1f6a34" stroke-width="0.60" stroke-linejoin="round" >0%</text>
<text id="pcta7" class="t" transform="translate(1047.45 111.98) scale(1.0316 1.0687)" font-family='"Liberation Sans", "DejaVu Sans", Arial, sans-serif' font-size="33.5" font-weight="bold" font-style="normal" fill="#8a2a98" text-anchor="start" stroke="#8a2a98" stroke-width="0.60" stroke-linejoin="round" >27.3%</text>
<text id="pcta8" class="t" transform="translate(1202.92 111.98) scale(1.0415 1.0687)" font-family='"Liberation Sans", "DejaVu Sans", Arial, sans-serif' font-size="33.5" font-weight="bold" font-style="normal" fill="#ea1d27" text-anchor="start" stroke="#ea1d27" stroke-width="0.60" stroke-linejoin="round" >0%</text>
<line x1="274" y1="127.3" x2="1292" y2="127.3" stroke="#000000" stroke-width="2"/>
<text id="yla0" class="t" transform="translate(70.86 996.57) rotate(-90) scale(1.0346 1.0826)" font-family='"Liberation Sans", "DejaVu Sans", Arial, sans-serif' font-size="60" font-weight="normal" font-style="normal" fill="#111111" text-anchor="start" stroke="#111111" stroke-width="0.80" stroke-linejoin="round" >Bacteria</text>
<text id="yla1" class="t" transform="translate(70.53 751.48) rotate(-90) scale(1.1665 1.0580)" font-family='"Liberation Sans", "DejaVu Sans", Arial, sans-serif' font-size="60" font-weight="normal" font-style="normal" fill="#111111" text-anchor="start" stroke="#111111" stroke-width="0.80" stroke-linejoin="round" >in</text>
<text id="yla2" class="t" transform="translate(70.32 685.73) rotate(-90) scale(1.0328 1.0426)" font-family='"Liberation Sans", "DejaVu Sans", Arial, sans-serif' font-size="60" font-weight="normal" font-style="normal" fill="#111111" text-anchor="start" stroke="#111111" stroke-width="0.80" stroke-linejoin="round" >lung</text>
<text id="yla3" class="t" transform="translate(70.00 544.47) rotate(-90) scale(0.8491 1.0194)" font-family='"Liberation Sans", "DejaVu Sans", Arial, sans-serif' font-size="60" font-weight="normal" font-style="normal" fill="#111111" text-anchor="start" stroke="#111111" stroke-width="0.80" stroke-linejoin="round" >(cfu/g</text>
<text id="yla4" class="t" transform="translate(69.78 402.28) rotate(-90) scale(0.9434 1.0031)" font-family='"Liberation Sans", "DejaVu Sans", Arial, sans-serif' font-size="60" font-weight="normal" font-style="normal" fill="#111111" text-anchor="start" stroke="#111111" stroke-width="0.80" stroke-linejoin="round" >of</text>
<text id="yla5" class="t" transform="translate(69.53 338.16) rotate(-90) scale(0.9015 0.9844)" font-family='"Liberation Sans", "DejaVu Sans", Arial, sans-serif' font-size="60" font-weight="normal" font-style="normal" fill="#111111" text-anchor="start" stroke="#111111" stroke-width="0.80" stroke-linejoin="round" >tissue)</text>
<text id="xla0" class="t" transform="translate(337.21 941.19) rotate(-90) scale(1.0022 1.0261)" font-family='"Liberation Sans", "DejaVu Sans", Arial, sans-serif' font-size="48" font-weight="normal" font-style="normal" fill="#111111" text-anchor="end" stroke="#111111" stroke-width="0.80" stroke-linejoin="round" >alum alone</text>
<text id="xla1" class="t" transform="translate(440.09 938.08) rotate(-90) scale(1.0143 1.0125)" font-family='"Liberation Sans", "DejaVu Sans", Arial, sans-serif' font-size="48" font-weight="normal" font-style="normal" fill="#d0202e" text-anchor="end" stroke="#d0202e" stroke-width="0.80" stroke-linejoin="round" >POmT</text>
<text id="xla2" class="t" transform="translate(548.69 940.10) rotate(-90) scale(1.0071 1.0310)" font-family='"Liberation Sans", "DejaVu Sans", Arial, sans-serif' font-size="48" font-weight="normal" font-style="normal" fill="#2e47a6" text-anchor="end" stroke="#2e47a6" stroke-width="0.80" stroke-linejoin="round" >PcrV</text>
<text id="xla3" class="t" transform="translate(657.63 940.08) rotate(-90) scale(1.0069 1.0097)" font-family='"Liberation Sans", "DejaVu Sans", Arial, sans-serif' font-size="48" font-weight="normal" font-style="normal" fill="#275f2f" text-anchor="end" stroke="#275f2f" stroke-width="0.80" stroke-linejoin="round" >OprF</text>
<text id="xla4" class="t" transform="translate(780.48 940.14) rotate(-90) scale(0.9596 1.0774)" font-family='"Liberation Sans", "DejaVu Sans", Arial, sans-serif' font-size="48" font-weight="normal" font-style="normal" fill="#6b3fa2" text-anchor="end" stroke="#6b3fa2" stroke-width="0.80" stroke-linejoin="round" >mTox</text>
<text id="xla5" class="t" transform="translate(896.37 938.19) rotate(-90) scale(0.9515 1.0155)" font-family='"Liberation Sans", "DejaVu Sans", Arial, sans-serif' font-size="48" font-weight="normal" font-style="normal" fill="#2e47a6" text-anchor="end" stroke="#2e47a6" stroke-width="0.80" stroke-linejoin="round" >PcrV+OprF</text>
<text id="xla6" class="t" transform="translate(1008.12 940.17) rotate(-90) scale(0.9308 1.0023)" font-family='"Liberation Sans", "DejaVu Sans", Arial, sans-serif' font-size="48" font-weight="normal" font-style="normal" fill="#275f2f" text-anchor="end" stroke="#275f2f" stroke-width="0.80" stroke-linejoin="round" >PcrV+mTox</text>
<text id="xla7" class="t" transform="translate(1118.62 940.16) rotate(-90) scale(0.9249 1.0016)" font-family='"Liberation Sans", "DejaVu Sans", Arial, sans-serif' font-size="48" font-weight="normal" font-style="normal" fill="#6b3fa2" text-anchor="end" stroke="#6b3fa2" stroke-width="0.80" stroke-linejoin="round" >OprF+mTox</text>
<text id="xla8" class="t" transform="translate(1231.59 940.16) rotate(-90) scale(0.9340 0.9915)" font-family='"Liberation Sans", "DejaVu Sans", Arial, sans-serif' font-size="48" font-weight="normal" font-style="normal" fill="#ed1c24" text-anchor="end" stroke="#ed1c24" stroke-width="0.80" stroke-linejoin="round" >PcrV+OprF+mTox</text>
<text id="cfua" class="t" transform="translate(1178.11 455.24) scale(0.9864 0.9956)" font-family='"Liberation Sans", "DejaVu Sans", Arial, sans-serif' font-size="42" font-weight="normal" font-style="normal" fill="#c21f2f" text-anchor="start" stroke="#c21f2f" stroke-width="0.80" stroke-linejoin="round" >cfu instilled</text>
<text id="cfuga1" class="t" transform="translate(1181.53 512.04) scale(0.9820 0.9682)" font-family='"Liberation Sans", "DejaVu Sans", Arial, sans-serif' font-size="42" font-weight="normal" font-style="normal" fill="#c21f2f" text-anchor="start" stroke="#c21f2f" stroke-width="0.80" stroke-linejoin="round" >5.2 ×10</text>
<text id="cfuga2" class="t" transform="translate(1321.42 497.95) scale(1.0070 1.0449)" font-family='"Liberation Sans", "DejaVu Sans", Arial, sans-serif' font-size="24" font-weight="normal" font-style="normal" fill="#c21f2f" text-anchor="start" stroke="#c21f2f" stroke-width="0.80" stroke-linejoin="round" >6</text>
<text id="cfuga3" class="t" transform="translate(1342.02 516.85) scale(0.9773 0.9647)" font-family='"Liberation Sans", "DejaVu Sans", Arial, sans-serif' font-size="42" font-weight="normal" font-style="normal" fill="#c21f2f" text-anchor="start" stroke="#c21f2f" stroke-width="0.80" stroke-linejoin="round" >cfu/g</text>
<line x1="267" y1="1314" x2="760" y2="1314" stroke="#000000" stroke-width="6"/>
<line x1="762" y1="1314" x2="1268" y2="1314" stroke="#000000" stroke-width="6"/>
<text id="infa" class="t" transform="translate(537.44 1373.92) scale(1.0104 1.0267)" font-family='"Liberation Sans", "DejaVu Sans", Arial, sans-serif' font-size="54.5" font-weight="normal" font-style="normal" fill="#111111" text-anchor="start" stroke="#111111" stroke-width="0.80" stroke-linejoin="round" >Infected<tspan dx="-5.5"> with PA103</tspan></text>
<line x1="1654.1" y1="480.9" x2="2214" y2="480.9" stroke="#ed1c24" stroke-width="3.9" stroke-dasharray="8 5.9"/>
<line x1="1656.7" y1="264.8" x2="1656.7" y2="944" stroke="#000000" stroke-width="4.6"/>
<line x1="1654.5" y1="930.6" x2="2014" y2="930.6" stroke="#000000" stroke-width="4.4"/>
<line x1="1643.5" y1="929.3" x2="1656" y2="929.3" stroke="#000000" stroke-width="3"/>
<line x1="1643.5" y1="834.4" x2="1656" y2="834.4" stroke="#000000" stroke-width="3"/>
<line x1="1643.5" y1="739.5" x2="1656" y2="739.5" stroke="#000000" stroke-width="3"/>
<line x1="1643.5" y1="644.6" x2="1656" y2="644.6" stroke="#000000" stroke-width="3"/>
<line x1="1643.5" y1="549.7" x2="1656" y2="549.7" stroke="#000000" stroke-width="3"/>
<line x1="1643.5" y1="454.8" x2="1656" y2="454.8" stroke="#000000" stroke-width="3"/>
<line x1="1643.5" y1="359.9" x2="1656" y2="359.9" stroke="#000000" stroke-width="3"/>
<line x1="1643.5" y1="265" x2="1656" y2="265" stroke="#000000" stroke-width="3"/>
<line x1="1783" y1="930" x2="1783" y2="944" stroke="#000000" stroke-width="3.2"/>
<line x1="1900.6" y1="930" x2="1900.6" y2="944" stroke="#000000" stroke-width="3.2"/>
<line x1="2012" y1="930" x2="2012" y2="944" stroke="#000000" stroke-width="3.2"/>
<text id="tb4" class="t" transform="translate(1548.56 948.27) scale(0.9520 1.0282)" font-family='"Liberation Sans", "DejaVu Sans", Arial, sans-serif' font-size="49.5" font-weight="bold" font-style="normal" fill="#111111" text-anchor="start" stroke="#111111" stroke-width="0.60" stroke-linejoin="round" >10<tspan font-size="30" dy="-14">4</tspan></text>
<text id="tb5" class="t" transform="translate(1548.56 854.61) scale(0.9520 1.0282)" font-family='"Liberation Sans", "DejaVu Sans", Arial, sans-serif' font-size="49.5" font-weight="bold" font-style="normal" fill="#111111" text-anchor="start" stroke="#111111" stroke-width="0.60" stroke-linejoin="round" >10<tspan font-size="30" dy="-14">5</tspan></text>
<text id="tb6" class="t" transform="translate(1548.56 760.95) scale(0.9520 1.0282)" font-family='"Liberation Sans", "DejaVu Sans", Arial, sans-serif' font-size="49.5" font-weight="bold" font-style="normal" fill="#111111" text-anchor="start" stroke="#111111" stroke-width="0.60" stroke-linejoin="round" >10<tspan font-size="30" dy="-14">6</tspan></text>
<text id="tb7" class="t" transform="translate(1548.56 667.29) scale(0.9520 1.0282)" font-family='"Liberation Sans", "DejaVu Sans", Arial, sans-serif' font-size="49.5" font-weight="bold" font-style="normal" fill="#111111" text-anchor="start" stroke="#111111" stroke-width="0.60" stroke-linejoin="round" >10<tspan font-size="30" dy="-14">7</tspan></text>
<text id="tb8" class="t" transform="translate(1548.56 573.63) scale(0.9520 1.0282)" font-family='"Liberation Sans", "DejaVu Sans", Arial, sans-serif' font-size="49.5" font-weight="bold" font-style="normal" fill="#111111" text-anchor="start" stroke="#111111" stroke-width="0.60" stroke-linejoin="round" >10<tspan font-size="30" dy="-14">8</tspan></text>
<text id="tb9" class="t" transform="translate(1548.56 479.97) scale(0.9520 1.0282)" font-family='"Liberation Sans", "DejaVu Sans", Arial, sans-serif' font-size="49.5" font-weight="bold" font-style="normal" fill="#111111" text-anchor="start" stroke="#111111" stroke-width="0.60" stroke-linejoin="round" >10<tspan font-size="30" dy="-14">9</tspan></text>
<text id="tb10" class="t" transform="translate(1548.56 386.31) scale(0.9520 1.0282)" font-family='"Liberation Sans", "DejaVu Sans", Arial, sans-serif' font-size="49.5" font-weight="bold" font-style="normal" fill="#111111" text-anchor="start" stroke="#111111" stroke-width="0.60" stroke-linejoin="round" >10<tspan font-size="30" dy="-14">10</tspan></text>
<text id="tb11" class="t" transform="translate(1548.56 292.65) scale(0.9520 1.0282)" font-family='"Liberation Sans", "DejaVu Sans", Arial, sans-serif' font-size="49.5" font-weight="bold" font-style="normal" fill="#111111" text-anchor="start" stroke="#111111" stroke-width="0.60" stroke-linejoin="round" >10<tspan font-size="30" dy="-14">11</tspan></text>
<rect x="1691.6" y="344.3" width="57.8" height="249.7" fill="#fcfcfc" stroke="#000000" stroke-width="1.3"/>
<line x1="1691.6" y1="411.4" x2="1749.4" y2="411.4" stroke="#000000" stroke-width="1.3"/>
<line x1="1691.6" y1="384.1" x2="1746.4" y2="384.1" stroke="#000000" stroke-width="1.1" stroke-dasharray="3.5 2.2"/>
<line x1="1691.6" y1="472.1" x2="1746.4" y2="472.1" stroke="#000000" stroke-width="1.1" stroke-dasharray="3.5 2.2"/>
<rect x="1798.6" y="305.2" width="58.6" height="357" fill="#fcfcfc" stroke="#ed1c24" stroke-width="1.3"/>
<line x1="1798.6" y1="502" x2="1857.2" y2="502" stroke="#ed1c24" stroke-width="1.3"/>
<line x1="1798.6" y1="353.3" x2="1854.2" y2="353.3" stroke="#ed1c24" stroke-width="1.1" stroke-dasharray="3.5 2.2"/>
<line x1="1798.6" y1="606.3" x2="1854.2" y2="606.3" stroke="#ed1c24" stroke-width="1.1" stroke-dasharray="3.5 2.2"/>
<rect x="1920.3" y="296.2" width="59" height="356.2" fill="#fcfcfc" stroke="#22389b" stroke-width="1.3"/>
<line x1="1920.3" y1="407.4" x2="1979.3" y2="407.4" stroke="#22389b" stroke-width="1.3"/>
<line x1="1920.3" y1="355.3" x2="1976.3" y2="355.3" stroke="#22389b" stroke-width="1.1" stroke-dasharray="3.5 2.2"/>
<line x1="1920.3" y1="510.9" x2="1976.3" y2="510.9" stroke="#22389b" stroke-width="1.1" stroke-dasharray="3.5 2.2"/>
<circle cx="1722" cy="346.7" r="6.5" fill="#000000"/>
<circle cx="1722" cy="391.6" r="6.5" fill="#000000"/>
<circle cx="1738.3" cy="387.8" r="5.5" fill="#fff" stroke="#000000" stroke-width="2.0"/>
<circle cx="1705.6" cy="474.7" r="6.5" fill="#000000"/>
<circle cx="1722" cy="475.5" r="5.5" fill="#fff" stroke="#000000" stroke-width="2.0"/>
<circle cx="1722" cy="596.9" r="5.5" fill="#fff" stroke="#000000" stroke-width="2.0"/>
<circle cx="1826.1" cy="308.8" r="6.5" fill="#ed1c24"/>
<circle cx="1809.7" cy="334.1" r="6.5" fill="#ed1c24"/>
<circle cx="1826.1" cy="341.3" r="6.5" fill="#ed1c24"/>
<circle cx="1842.7" cy="338.4" r="6.5" fill="#ed1c24"/>
<circle cx="1859.4" cy="334.1" r="6.5" fill="#ed1c24"/>
<circle cx="1809.7" cy="377.8" r="5.5" fill="#fff" stroke="#ed1c24" stroke-width="2.0"/>
<circle cx="1826.1" cy="392.7" r="5.5" fill="#fff" stroke="#ed1c24" stroke-width="2.0"/>
<circle cx="1826.1" cy="449.7" r="5.5" fill="#fff" stroke="#ed1c24" stroke-width="2.0"/>
<circle cx="1842.7" cy="490.5" r="5.5" fill="#fff" stroke="#ed1c24" stroke-width="2.0"/>
<circle cx="1826.1" cy="505.7" r="6.5" fill="#ed1c24"/>
<circle cx="1809.7" cy="540.8" r="5.5" fill="#fff" stroke="#ed1c24" stroke-width="2.0"/>
<circle cx="1826.1" cy="548.3" r="5.5" fill="#fff" stroke="#ed1c24" stroke-width="2.0"/>
<circle cx="1809.7" cy="609.4" r="5.5" fill="#fff" stroke="#ed1c24" stroke-width="2.0"/>
<circle cx="1826.1" cy="608.6" r="5.5" fill="#fff" stroke="#ed1c24" stroke-width="2.0"/>
<circle cx="1842.8" cy="605.3" r="5.5" fill="#fff" stroke="#ed1c24" stroke-width="2.0"/>
<circle cx="1826.1" cy="629.6" r="5.5" fill="#fff" stroke="#ed1c24" stroke-width="2.0"/>
<circle cx="1842.8" cy="656.5" r="5.5" fill="#fff" stroke="#ed1c24" stroke-width="2.0"/>
<circle cx="1809.7" cy="665.5" r="5.5" fill="#fff" stroke="#ed1c24" stroke-width="2.0"/>
<circle cx="1826.1" cy="665.5" r="5.5" fill="#fff" stroke="#ed1c24" stroke-width="2.0"/>
<rect x="1955.9" y="293.5" width="10.4" height="10.4" fill="#3b72c3" stroke="#2a419f" stroke-width="1.8"/>
<rect x="1939.2" y="305" width="10.4" height="10.4" fill="#3b72c3" stroke="#2a419f" stroke-width="1.8"/>
<rect x="1939.2" y="330.9" width="10.4" height="10.4" fill="#3b72c3" stroke="#2a419f" stroke-width="1.8"/>
<rect x="1921.7" y="340.9" width="10.4" height="10.4" fill="#3b72c3" stroke="#2a419f" stroke-width="1.8"/>
<rect x="1955.88" y="348.97" width="10.45" height="10.45" fill="#fff" stroke="#2a419f" stroke-width="1.75"/>
<rect x="1921.7" y="360.2" width="10.4" height="10.4" fill="#3b72c3" stroke="#2a419f" stroke-width="1.8"/>
<rect x="1939.18" y="356.77" width="10.45" height="10.45" fill="#fff" stroke="#2a419f" stroke-width="1.75"/>
<rect x="1939.18" y="381.17" width="10.45" height="10.45" fill="#fff" stroke="#2a419f" stroke-width="1.75"/>
<rect x="1921.7" y="404.2" width="10.4" height="10.4" fill="#3b72c3" stroke="#2a419f" stroke-width="1.8"/>
<rect x="1972" y="402.8" width="10.4" height="10.4" fill="#3b72c3" stroke="#2a419f" stroke-width="1.8"/>
<rect x="1939.18" y="419.17" width="10.45" height="10.45" fill="#fff" stroke="#2a419f" stroke-width="1.75"/>
<rect x="1955.9" y="415.7" width="10.4" height="10.4" fill="#3b72c3" stroke="#2a419f" stroke-width="1.8"/>
<rect x="1921.7" y="471.2" width="10.4" height="10.4" fill="#3b72c3" stroke="#2a419f" stroke-width="1.8"/>
<rect x="1939.2" y="489.9" width="10.4" height="10.4" fill="#3b72c3" stroke="#2a419f" stroke-width="1.8"/>
<rect x="1955.88" y="545.17" width="10.45" height="10.45" fill="#fff" stroke="#2a419f" stroke-width="1.75"/>
<rect x="1939.18" y="556.07" width="10.45" height="10.45" fill="#fff" stroke="#2a419f" stroke-width="1.75"/>
<rect x="1939.18" y="597.48" width="10.45" height="10.45" fill="#fff" stroke="#2a419f" stroke-width="1.75"/>
<rect x="1921.78" y="635.67" width="10.45" height="10.45" fill="#fff" stroke="#2a419f" stroke-width="1.75"/>
<rect x="1939.18" y="649.48" width="10.45" height="10.45" fill="#fff" stroke="#2a419f" stroke-width="1.75"/>
<rect x="1749.30" y="360.50" width="1.8" height="1.2" fill="#2a3a9a"/>
<rect x="1749.30" y="454.00" width="1.8" height="1.2" fill="#2a3a9a"/>
<rect x="1749.30" y="549.50" width="1.8" height="1.2" fill="#2a3a9a"/>
<rect x="1857.30" y="360.50" width="1.8" height="1.2" fill="#2a3a9a"/>
<rect x="1857.30" y="454.00" width="1.8" height="1.2" fill="#2a3a9a"/>
<rect x="1857.30" y="549.50" width="1.8" height="1.2" fill="#2a3a9a"/>
<rect x="1857.30" y="644.60" width="1.8" height="1.2" fill="#2a3a9a"/>
<rect x="1735.20" y="949.60" width="1.8" height="1.2" fill="#2a3a9a"/>
<text id="ns" class="t" transform="translate(1805.05 270.85) scale(0.9983 0.9434)" font-family='"Liberation Serif", "DejaVu Serif", serif' font-size="42" font-weight="normal" font-style="italic" fill="#111111" text-anchor="start" stroke="#111111" stroke-width="1.10" stroke-linejoin="round" >N.S.</text>
<line x1="1694" y1="283.6" x2="1982.8" y2="283.6" stroke="#000000" stroke-width="2"/>
<text id="pb" class="t" transform="translate(1459.40 86.03) scale(1.0001 0.9845)" font-family='"Liberation Sans", "DejaVu Sans", Arial, sans-serif' font-size="77" font-weight="bold" font-style="normal" fill="#111111" text-anchor="start" stroke="#111111" stroke-width="0.60" stroke-linejoin="round" >(b)</text>
<text id="hdrb1" class="t" transform="translate(1668.04 139.08) scale(0.9808 1.0140)" font-family='"Liberation Sans", "DejaVu Sans", Arial, sans-serif' font-size="35" font-weight="bold" font-style="normal" fill="#111111" text-anchor="start" stroke="#111111" stroke-width="0.60" stroke-linejoin="round" >Proportion (%)</text>
<text id="hdrb2" class="t" transform="translate(1914.97 136.12) scale(1.0012 1.0092)" font-family='"DejaVu Sans", "Liberation Sans", sans-serif' font-size="30" font-weight="bold" font-style="normal" fill="#111111" text-anchor="start" stroke="#111111" stroke-width="0.80" stroke-linejoin="round" >&#8807;</text>
<text id="hdrb3" class="t" transform="translate(1948.20 140.00) scale(0.9888 1.0604)" font-family='"Liberation Sans", "DejaVu Sans", Arial, sans-serif' font-size="35" font-weight="bold" font-style="normal" fill="#111111" text-anchor="start" stroke="#111111" stroke-width="0.60" stroke-linejoin="round" >5.2×10</text>
<text id="hdrb4" class="t" transform="translate(2055.64 128.22) scale(0.9792 1.1047)" font-family='"Liberation Sans", "DejaVu Sans", Arial, sans-serif' font-size="20" font-weight="bold" font-style="normal" fill="#111111" text-anchor="start" stroke="#111111" stroke-width="0.60" stroke-linejoin="round" >8</text>
<text id="hdrb5" class="t" transform="translate(2072.22 140.00) scale(0.9766 1.0469)" font-family='"Liberation Sans", "DejaVu Sans", Arial, sans-serif' font-size="35" font-weight="bold" font-style="normal" fill="#111111" text-anchor="start" stroke="#111111" stroke-width="0.60" stroke-linejoin="round" >cfu</text>
<text id="pctb0" class="t" transform="translate(1669.68 199.12) scale(1.0172 1.1525)" font-family='"Liberation Sans", "DejaVu Sans", Arial, sans-serif' font-size="33.5" font-weight="bold" font-style="normal" fill="#111111" text-anchor="start" stroke="#111111" stroke-width="0.60" stroke-linejoin="round" >50.0%</text>
<text id="secb0" class="t" transform="translate(1764.83 185.05) scale(0.9375 1.0028)" font-family='"Liberation Serif", "DejaVu Serif", serif' font-size="36" font-weight="bold" font-style="normal" fill="#111111" text-anchor="start" stroke="#111111" stroke-width="0.70" stroke-linejoin="round" >§</text>
<text id="pctb1" class="t" transform="translate(1799.99 199.14) scale(1.0175 1.1617)" font-family='"Liberation Sans", "DejaVu Sans", Arial, sans-serif' font-size="33.5" font-weight="bold" font-style="normal" fill="#ea1d27" text-anchor="start" stroke="#ea1d27" stroke-width="0.60" stroke-linejoin="round" >42.1%</text>
<text id="secb1" class="t" transform="translate(1894.97 184.94) scale(0.9375 0.9660)" font-family='"Liberation Serif", "DejaVu Serif", serif' font-size="36" font-weight="bold" font-style="normal" fill="#ea1d27" text-anchor="start" stroke="#ea1d27" stroke-width="0.70" stroke-linejoin="round" >§</text>
<text id="pctb2" class="t" transform="translate(1927.55 199.14) scale(1.0201 1.1503)" font-family='"Liberation Sans", "DejaVu Sans", Arial, sans-serif' font-size="33.5" font-weight="bold" font-style="normal" fill="#3f78c6" text-anchor="start" stroke="#3f78c6" stroke-width="0.60" stroke-linejoin="round" >63.2%</text>
<text id="secb2" class="t" transform="translate(2021.16 185.14) scale(0.9388 0.9660)" font-family='"Liberation Serif", "DejaVu Serif", serif' font-size="36" font-weight="bold" font-style="normal" fill="#3f78c6" text-anchor="start" stroke="#3f78c6" stroke-width="0.70" stroke-linejoin="round" >§</text>
<line x1="1668" y1="204.2" x2="2005" y2="204.2" stroke="#000000" stroke-width="2"/>
<text id="ylb0" class="t" transform="translate(1515.86 996.57) rotate(-90) scale(1.0346 1.0826)" font-family='"Liberation Sans", "DejaVu Sans", Arial, sans-serif' font-size="60" font-weight="normal" font-style="normal" fill="#111111" text-anchor="start" stroke="#111111" stroke-width="0.80" stroke-linejoin="round" >Bacteria</text>
<text id="ylb1" class="t" transform="translate(1515.53 751.48) rotate(-90) scale(1.1665 1.0580)" font-family='"Liberation Sans", "DejaVu Sans", Arial, sans-serif' font-size="60" font-weight="normal" font-style="normal" fill="#111111" text-anchor="start" stroke="#111111" stroke-width="0.80" stroke-linejoin="round" >in</text>
<text id="ylb2" class="t" transform="translate(1515.32 685.73) rotate(-90) scale(1.0328 1.0426)" font-family='"Liberation Sans", "DejaVu Sans", Arial, sans-serif' font-size="60" font-weight="normal" font-style="normal" fill="#111111" text-anchor="start" stroke="#111111" stroke-width="0.80" stroke-linejoin="round" >lung</text>
<text id="ylb3" class="t" transform="translate(1515.00 544.47) rotate(-90) scale(0.8491 1.0194)" font-family='"Liberation Sans", "DejaVu Sans", Arial, sans-serif' font-size="60" font-weight="normal" font-style="normal" fill="#111111" text-anchor="start" stroke="#111111" stroke-width="0.80" stroke-linejoin="round" >(cfu/g</text>
<text id="ylb4" class="t" transform="translate(1514.78 402.28) rotate(-90) scale(0.9434 1.0031)" font-family='"Liberation Sans", "DejaVu Sans", Arial, sans-serif' font-size="60" font-weight="normal" font-style="normal" fill="#111111" text-anchor="start" stroke="#111111" stroke-width="0.80" stroke-linejoin="round" >of</text>
<text id="ylb5" class="t" transform="translate(1514.53 338.16) rotate(-90) scale(0.9015 0.9844)" font-family='"Liberation Sans", "DejaVu Sans", Arial, sans-serif' font-size="60" font-weight="normal" font-style="normal" fill="#111111" text-anchor="start" stroke="#111111" stroke-width="0.80" stroke-linejoin="round" >tissue)</text>
<text id="xlb0" class="t" transform="translate(1722.00 944.31) rotate(-90) scale(0.9915 1.0294)" font-family='"Liberation Sans", "DejaVu Sans", Arial, sans-serif' font-size="46" font-weight="normal" font-style="normal" fill="#111111" text-anchor="end" stroke="#111111" stroke-width="0.80" stroke-linejoin="round" >alum alone</text>
<text id="xlb1" class="t" transform="translate(1848.35 943.40) rotate(-90) scale(0.9892 1.0421)" font-family='"Liberation Sans", "DejaVu Sans", Arial, sans-serif' font-size="46" font-weight="normal" font-style="normal" fill="#d0202e" text-anchor="end" stroke="#d0202e" stroke-width="0.80" stroke-linejoin="round" >POmT</text>
<text id="xlb2" class="t" transform="translate(1967.21 945.69) rotate(-90) scale(0.9824 1.0716)" font-family='"Liberation Sans", "DejaVu Sans", Arial, sans-serif' font-size="46" font-weight="normal" font-style="normal" fill="#2e47a6" text-anchor="end" stroke="#2e47a6" stroke-width="0.80" stroke-linejoin="round" >PcrV</text>
<text id="cfub" class="t" transform="translate(2012.32 458.49) scale(0.9824 1.0084)" font-family='"Liberation Sans", "DejaVu Sans", Arial, sans-serif' font-size="42" font-weight="normal" font-style="normal" fill="#c21f2f" text-anchor="start" stroke="#c21f2f" stroke-width="0.80" stroke-linejoin="round" >cfu instilled</text>
<text id="cfugb1" class="t" transform="translate(2014.02 529.23) scale(0.9784 0.9682)" font-family='"Liberation Sans", "DejaVu Sans", Arial, sans-serif' font-size="42" font-weight="normal" font-style="normal" fill="#c21f2f" text-anchor="start" stroke="#c21f2f" stroke-width="0.80" stroke-linejoin="round" >5.2 ×10</text>
<text id="cfugb2" class="t" transform="translate(2154.08 516.96) scale(0.9167 1.0020)" font-family='"Liberation Sans", "DejaVu Sans", Arial, sans-serif' font-size="24" font-weight="normal" font-style="normal" fill="#c21f2f" text-anchor="start" stroke="#c21f2f" stroke-width="0.80" stroke-linejoin="round" >8</text>
<text id="cfugb3" class="t" transform="translate(2174.00 533.85) scale(0.9944 0.9647)" font-family='"Liberation Sans", "DejaVu Sans", Arial, sans-serif' font-size="42" font-weight="normal" font-style="normal" fill="#c21f2f" text-anchor="start" stroke="#c21f2f" stroke-width="0.80" stroke-linejoin="round" >cfu/g</text>
<line x1="1676" y1="1192" x2="2014.5" y2="1192" stroke="#000000" stroke-width="7"/>
<text id="infb1" class="t" transform="translate(1528.43 1258.52) scale(1.0157 0.9879)" font-family='"Liberation Sans", "DejaVu Sans", Arial, sans-serif' font-size="54.5" font-weight="normal" font-style="normal" fill="#111111" text-anchor="start" stroke="#111111" stroke-width="0.80" stroke-linejoin="round" >Infected with PA103</text>
<text id="infb2" class="t" transform="translate(2025.03 1259.36) scale(1.0293 1.0111)" font-family='"Liberation Sans", "DejaVu Sans", Arial, sans-serif' font-size="54.5" font-weight="normal" font-style="italic" fill="#111111" text-anchor="start" stroke="#111111" stroke-width="0.80" stroke-linejoin="round" >&#916;pcrV</text>
</svg>
</body></html>
